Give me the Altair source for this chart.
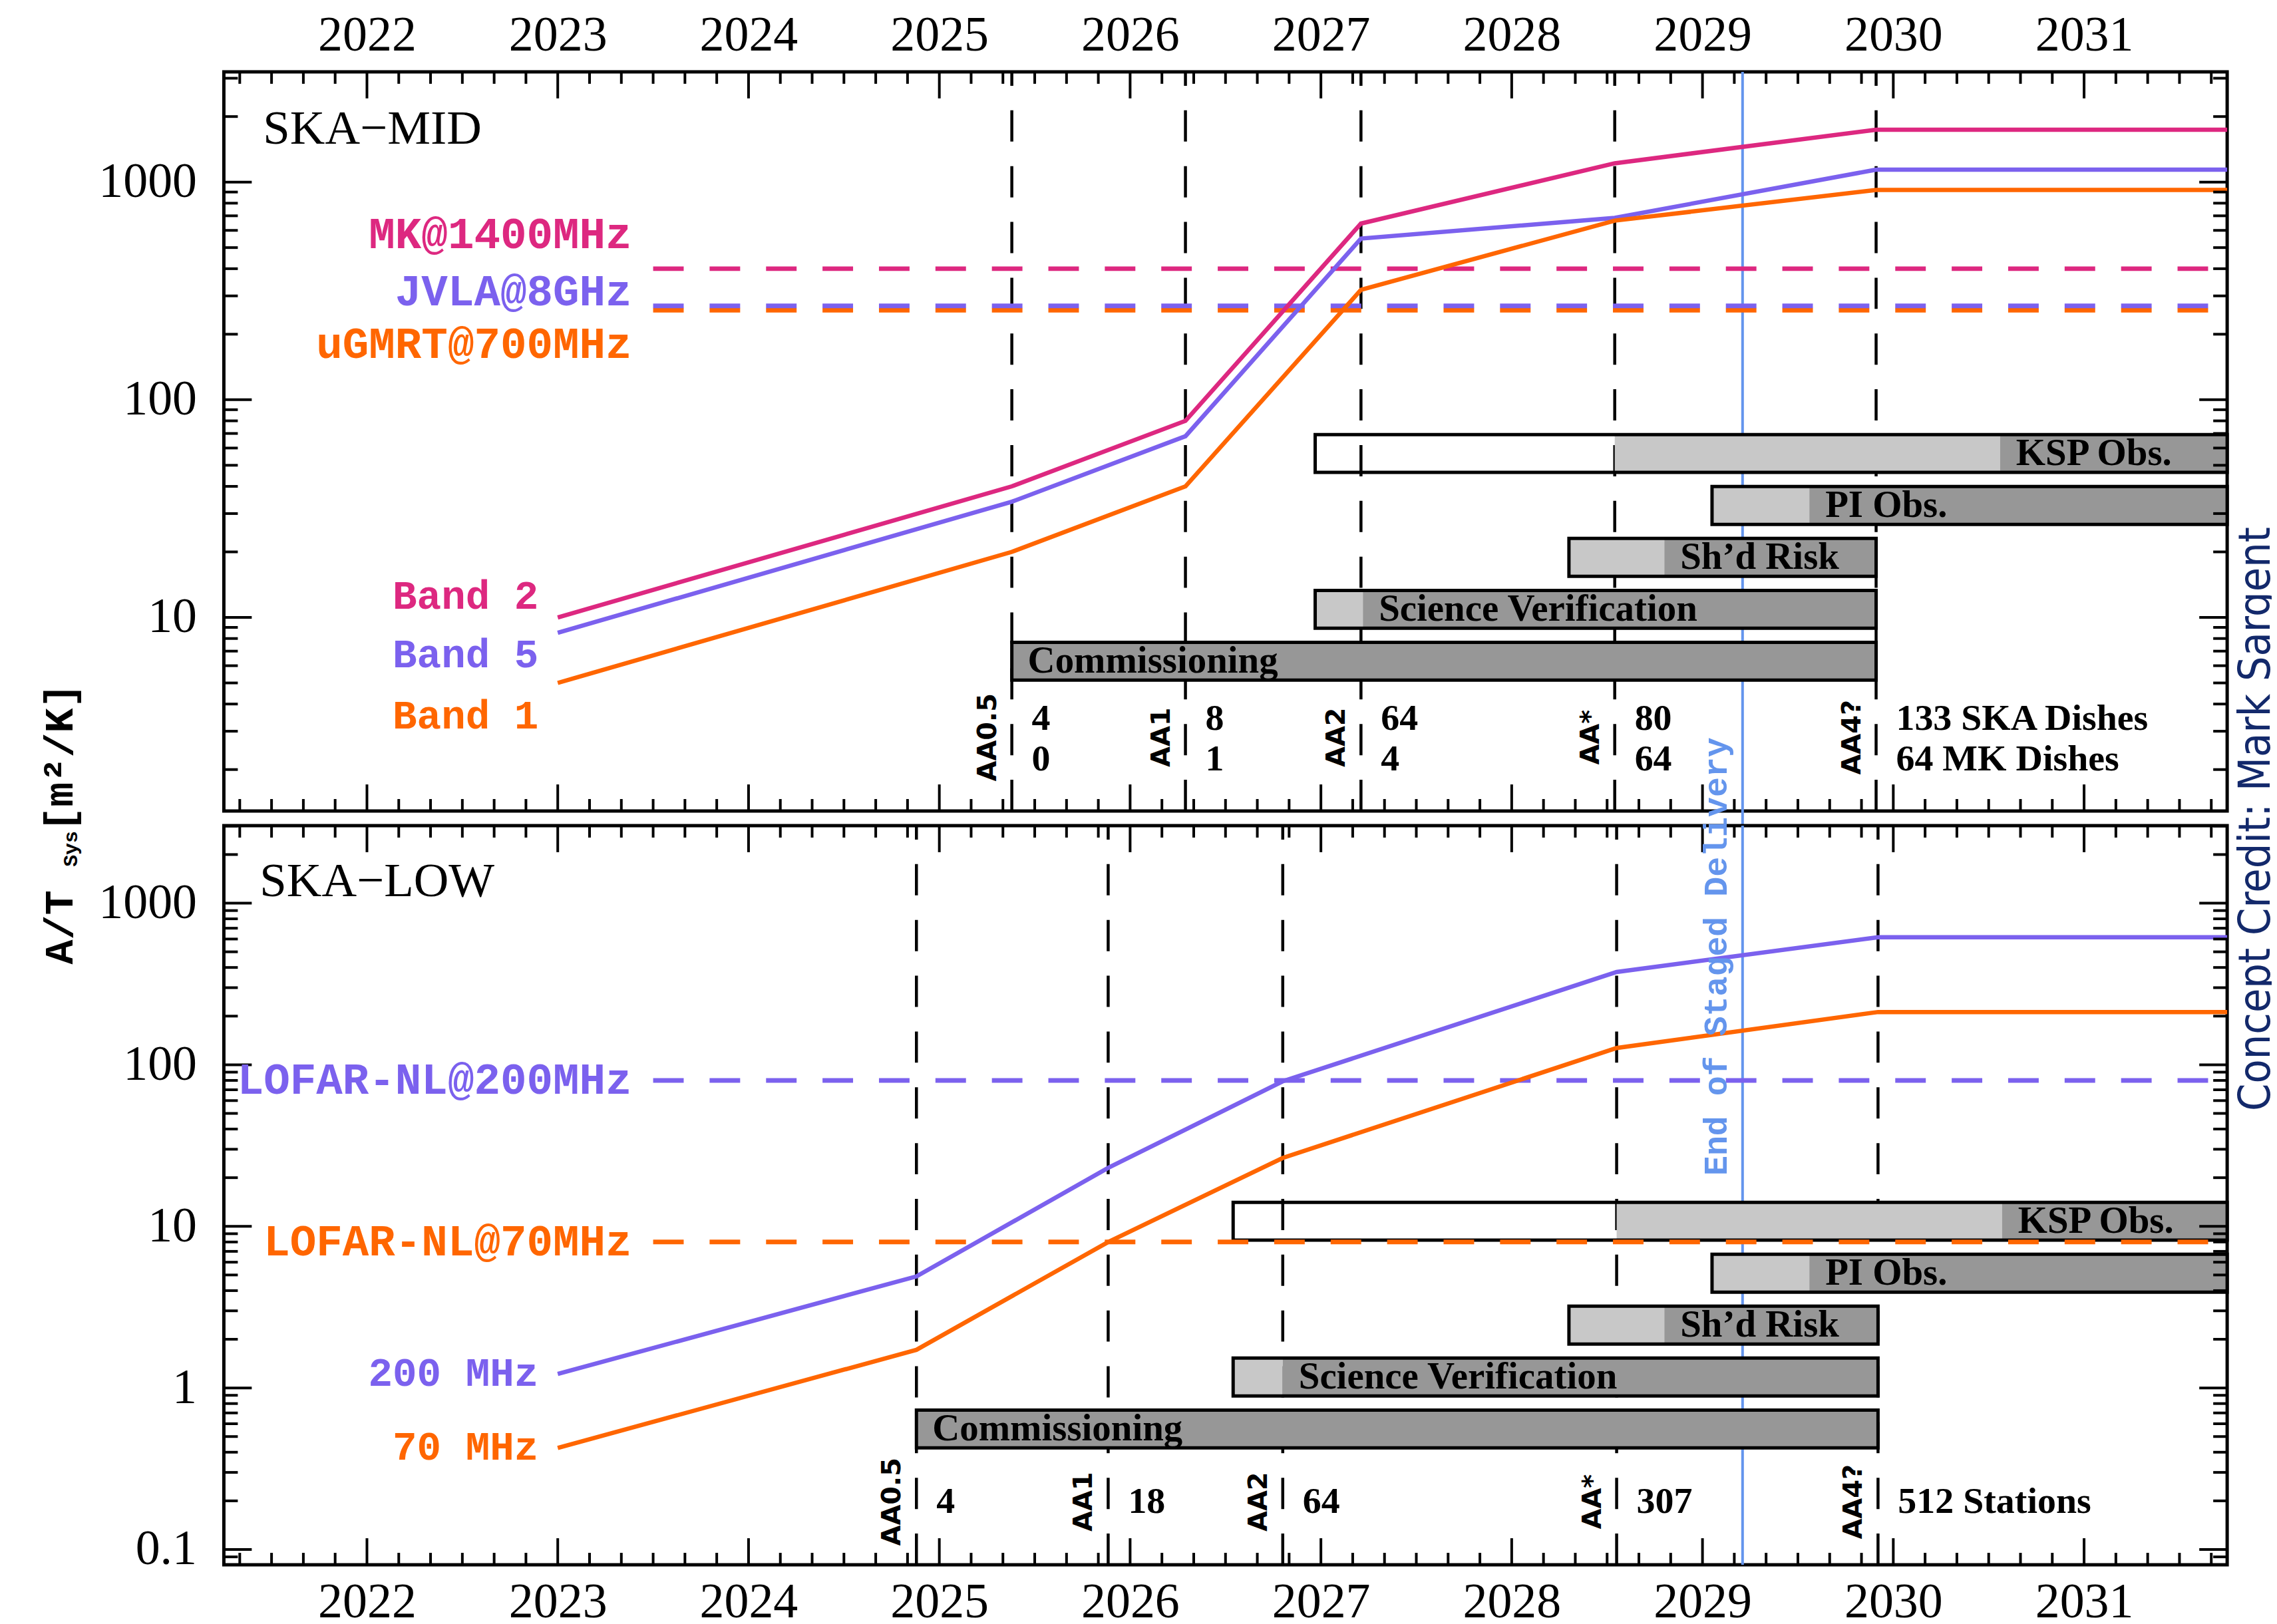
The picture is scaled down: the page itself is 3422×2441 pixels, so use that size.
import altair as alt
import pandas as pd

# ---------------- data ----------------
x_domain = [2021.25, 2031.75]
year_labels = list(range(2022, 2032))

ms_names = ["AA0.5", "AA1", "AA2", "AA*", "AA4?"]
mid_ms_x = [2025.38, 2026.29, 2027.21, 2028.54, 2029.91]
mid_ska_dishes = ["4", "8", "64", "80", "133 SKA Dishes"]
mid_mk_dishes = ["0", "1", "4", "64", "64 MK Dishes"]
low_ms_x = [2024.88, 2025.885, 2026.80, 2028.55, 2029.92]
low_stations = ["4", "18", "64", "307", "512 Stations"]

staged_delivery_x = 2029.21
line_start_x = 2023.0
line_end_x = 2031.75

mid_series = ["Band 2", "Band 5", "Band 1"]
mid_band2 = [10, 40, 80, 645, 1220, 1740, 1740]
mid_band5 = [8.5, 34, 68, 550, 685, 1140, 1140]
mid_band1 = [5, 20, 40, 320, 665, 920, 920]
mid_band_label_y = [12.4, 6.7, 3.5]

low_series = ["200 MHz", "70 MHz"]
low_200 = [1.22, 4.9, 23, 79, 375, 615, 615]
low_70 = [0.425, 1.72, 8.0, 26.5, 127, 212, 212]

mid_ref_names = ["MK@1400MHz", "JVLA@8GHz", "uGMRT@700MHz"]
mid_ref_values = [400, 270, 258]
mid_ref_label_y = [571, 313, 179]
low_ref_names = ["LOFAR-NL@200MHz", "LOFAR-NL@70MHz"]
low_ref_values = [80, 8]
ref_start_x = 2023.5

bar_names = ["Commissioning", "Science Verification", "Sh\u2019d Risk", "PI Obs.", "KSP Obs."]
mid_bar_start = [2025.38, 2026.97, 2028.30, 2029.05, 2026.97]
mid_bar_white_end = [2025.38, 2026.97, 2028.30, 2029.05, 2028.54]
mid_bar_light_end = [2025.38, 2027.22, 2028.80, 2029.56, 2030.56]
mid_bar_end = [2029.91, 2029.91, 2029.91, 2031.75, 2031.75]
low_bar_start = [2024.88, 2026.54, 2028.30, 2029.05, 2026.54]
low_bar_white_end = [2024.88, 2026.54, 2028.30, 2029.05, 2028.55]
low_bar_light_end = [2024.88, 2026.80, 2028.80, 2029.56, 2030.57]
low_bar_end = [2029.92, 2029.92, 2029.92, 2031.75, 2031.75]

mid_y_domain = [1.29, 3210]
low_y_domain = [0.0804, 3020]

# ---------------- styles / layout ----------------
W, H, GAP = 3016, 1113, 22
SERIF = "Liberation Serif, DejaVu Serif, serif"
MONO = "Liberation Mono, DejaVu Sans Mono, monospace"
SANS = "DejaVu Sans, Liberation Sans, sans-serif"
COND = "DejaVu Sans Condensed, Liberation Sans Narrow, Roboto, sans-serif"
PINK, PURPLE, ORANGE = "#DD2880", "#7B61EE", "#FF6600"
BLUE, LIGHT, DARK, NAVY = "#6495ED", "#C8C8C8", "#979797", "#13296B"
ROW_PITCH = 78.2
HALF_BAR = 28.5 / ROW_PITCH


def log_ticks(lo, hi):
    majors, minors = [], []
    for e in range(-2, 5):
        for m in range(1, 10):
            v = round(m * 10.0 ** e, 6)
            if lo <= v <= hi:
                (majors if m == 1 else minors).append(v)
    return majors, minors


def year_ticks():
    minors = []
    for k in range(0, 72):
        v = 2021 + k / 6.0
        if k % 6 != 0 and x_domain[0] < v < x_domain[1]:
            minors.append(round(v, 5))
    return year_labels, minors


def one(**kw):
    return pd.DataFrame({k: [v] for k, v in kw.items()})


def make_panel(kind):
    top = kind == "MID"
    ydom = mid_y_domain if top else low_y_domain
    ymaj, ymin = log_ticks(*ydom)
    xmaj, xmin = year_ticks()

    xs = alt.Scale(domain=x_domain, nice=False, zero=False)
    ys = alt.Scale(type="log", domain=ydom, nice=False)
    ax_x = alt.Axis(orient="top" if top else "bottom", values=year_labels, format="d",
                    title=None, ticks=False, tickSize=0, domain=False, grid=False,
                    labelFont=SERIF, labelFontSize=74, labelColor="black",
                    labelPadding=33 if top else 79, labelBaseline="alphabetic",
                    labelFlush=False, labelOverlap=False, labelAngle=0)
    ax_y = alt.Axis(orient="left", values=ymaj, format="~g", title=None, ticks=False,
                    tickSize=0, domain=False, grid=False, labelFont=SERIF,
                    labelFontSize=74, labelColor="black", labelPadding=41,
                    labelAlign="right", labelBaseline="middle", labelFlush=False,
                    labelOverlap=False)

    def X(f):
        return alt.X(f, type="quantitative", scale=xs, axis=ax_x)

    def Y(f):
        return alt.Y(f, type="quantitative", scale=ys, axis=ax_y)

    ms_x = mid_ms_x if top else low_ms_x
    # ---------- group A: under the bars ----------
    a_layers = []
    a_layers.append(
        alt.Chart(one(x=staged_delivery_x)).mark_rule(color=BLUE, strokeWidth=4).encode(
            x=X("x"), y=alt.value(0), y2=alt.value(H + GAP if top else H)))
    a_layers.append(
        alt.Chart(pd.DataFrame({"x": ms_x})).mark_rule(
            color="black", strokeWidth=4.5, strokeDash=[47, 37]).encode(
            x=X("x"), y=alt.value(H), y2=alt.value(0)))
    if top:
        # invisible anchor fixing the page offset of the plot area
        a_layers.append(
            alt.Chart(one(x=0)).mark_rule(strokeOpacity=0, strokeWidth=0.1).encode(
                x=alt.value(-326), x2=alt.value(-300), y=alt.value(-120), y2=alt.value(-120)))
    group_a = alt.layer(*a_layers)

    # ---------- bars (own row scale) ----------
    r0 = 887.5 if top else 908.5
    rs = alt.Scale(domain=[(r0 - H) / ROW_PITCH, r0 / ROW_PITCH], nice=False, zero=False)
    bs = mid_bar_start if top else low_bar_start
    bw = mid_bar_white_end if top else low_bar_white_end
    bl = mid_bar_light_end if top else low_bar_light_end
    be = mid_bar_end if top else low_bar_end
    segs, outl, labs = [], [], []
    for i, name in enumerate(bar_names):
        if bl[i] > bw[i]:
            segs.append({"x0": bw[i], "x1": bl[i], "y0": i - HALF_BAR, "y1": i + HALF_BAR, "c": LIGHT})
        segs.append({"x0": bl[i], "x1": be[i], "y0": i - HALF_BAR, "y1": i + HALF_BAR, "c": DARK})
        outl.append({"x0": bs[i], "x1": be[i], "y0": i - HALF_BAR, "y1": i + HALF_BAR})
        labs.append({"x0": bl[i], "row": i, "name": name})
    bars_fill = alt.Chart(pd.DataFrame(segs)).mark_rect().encode(
        x=X("x0"), x2="x1", y=alt.Y("y0:Q", scale=rs, axis=None), y2="y1",
        color=alt.Color("c:N", scale=None))
    bars_out = alt.Chart(pd.DataFrame(outl)).mark_rect(
        fillOpacity=0, stroke="black", strokeWidth=5).encode(
        x=X("x0"), x2="x1", y=alt.Y("y0:Q", scale=rs, axis=None), y2="y1")
    bars_txt = alt.Chart(pd.DataFrame(labs)).mark_text(
        align="left", baseline="middle", dx=24, font=SERIF, fontWeight="bold",
        fontSize=57, color="black").encode(
        x=X("x0"), y=alt.Y("row:Q", scale=rs, axis=None), text="name:N")
    group_bars = alt.layer(bars_fill, bars_out, bars_txt)

    # ---------- group B: over the bars ----------
    b = []
    if top:
        ref_names, ref_vals, ref_cols = mid_ref_names, mid_ref_values, [PINK, PURPLE, ORANGE]
        ref_label_y = mid_ref_label_y
    else:
        ref_names, ref_vals, ref_cols = low_ref_names, low_ref_values, [PURPLE, ORANGE]
        ref_label_y = low_ref_values
    ref_df = pd.DataFrame({"name": ref_names, "v": ref_vals, "c": ref_cols,
                           "x0": ref_start_x, "x1": line_end_x, "ly": ref_label_y})
    order = [0, 2, 1] if top else [0, 1]
    b.append(alt.Chart(ref_df.iloc[order]).mark_rule(strokeWidth=7, strokeDash=[46, 39]).encode(
        x=X("x0"), x2="x1", y=Y("v"), color=alt.Color("c:N", scale=None)))

    if top:
        series, vals, cols = mid_series, [mid_band2, mid_band5, mid_band1], [PINK, PURPLE, ORANGE]
        lab_y = mid_band_label_y
    else:
        series, vals, cols = low_series, [low_200, low_70], [PURPLE, ORANGE]
        lab_y = [low_200[0], low_70[0]]
    lx = [line_start_x] + ms_x + [line_end_x]
    rows = []
    for s, v, c in zip(series, vals, cols):
        for xx, yy in zip(lx, v):
            rows.append({"s": s, "x": xx, "v": yy, "c": c})
    b.append(alt.Chart(pd.DataFrame(rows)).mark_line(strokeWidth=6.5).encode(
        x=X("x"), y=Y("v"), detail="s:N", color=alt.Color("c:N", scale=None)))

    # ticks (inward, on all four sides)
    for vals_, L in ((ymaj, 42), (ymin, 21)):
        d = pd.DataFrame({"v": vals_})
        b.append(alt.Chart(d).mark_rule(color="black", strokeWidth=4).encode(
            y=Y("v"), x=alt.value(0), x2=alt.value(L)))
        b.append(alt.Chart(d).mark_rule(color="black", strokeWidth=4).encode(
            y=Y("v"), x=alt.value(W - L), x2=alt.value(W)))
    for vals_, L in ((xmaj, 40), (xmin, 18)):
        d = pd.DataFrame({"t": vals_})
        b.append(alt.Chart(d).mark_rule(color="black", strokeWidth=4).encode(
            x=X("t"), y=alt.value(0), y2=alt.value(L)))
        b.append(alt.Chart(d).mark_rule(color="black", strokeWidth=4).encode(
            x=X("t"), y=alt.value(H - L), y2=alt.value(H)))

    # series labels and reference labels
    b.append(alt.Chart(pd.DataFrame({"name": series, "x": line_start_x, "ly": lab_y, "c": cols}))
             .mark_text(align="right", baseline="middle", dx=-29, font=MONO, fontWeight="bold",
                        fontSize=61).encode(
        x=X("x"), y=Y("ly"), text="name:N", color=alt.Color("c:N", scale=None)))
    b.append(alt.Chart(ref_df).mark_text(align="right", baseline="middle", dx=-32, font=MONO,
                                         fontWeight="bold", fontSize=66).encode(
        x=X("x0"), y=Y("ly"), text="name:N", color=alt.Color("c:N", scale=None)))

    # milestone labels
    ms_df = pd.DataFrame({"x": ms_x, "name": ms_names})
    b.append(alt.Chart(ms_df).mark_text(angle=270, align="center", baseline="alphabetic", dy=-24,
                                        font=SANS, fontWeight="bold", fontSize=40,
                                        color="black").encode(
        x=X("x"), y=alt.value(1002 if top else 1018), text="name:N"))
    if top:
        n_rows = [(mid_ska_dishes, 974), (mid_mk_dishes, 1035)]
    else:
        n_rows = [(low_stations, 1018)]
    for texts, yy in n_rows:
        b.append(alt.Chart(pd.DataFrame({"x": ms_x, "t": texts})).mark_text(
            align="left", baseline="middle", dx=30, font=SERIF, fontWeight="bold",
            fontSize=56, color="black").encode(x=X("x"), y=alt.value(yy), text="t:N"))

    # panel name
    b.append(alt.Chart(one(t="SKA\u2212MID" if top else "SKA\u2212LOW")).mark_text(
        align="left", baseline="alphabetic", font=SERIF, fontSize=73, color="black").encode(
        x=alt.value(59 if top else 54), y=alt.value(108 if top else 106), text="t:N"))

    if top:
        # y title (spans both panels)
        for txt, yy, xx, fs in (("A/T", 1344, -228, 62), ("Sys", 1197, -221, 30),
                                ("[m\u00b2/K]", 1144, -228, 62)):
            b.append(alt.Chart(one(t=txt)).mark_text(
                angle=270, align="left", baseline="alphabetic", font=MONO, fontWeight="bold",
                fontSize=fs, color="black").encode(x=alt.value(xx), y=alt.value(yy), text="t:N"))
        b.append(alt.Chart(one(t="Concept Credit: Mark Sargent")).mark_text(
            angle=270, align="center", baseline="alphabetic", font=COND, fontSize=66,
            color=NAVY).encode(x=alt.value(W + 64), y=alt.value(1125), text="t:N"))
    else:
        b.append(alt.Chart(one(x=staged_delivery_x, t="End of Staged Delivery")).mark_text(
            angle=270, align="center", baseline="alphabetic", dy=-24, font=MONO,
            fontWeight="bold", fontSize=50, color=BLUE).encode(
            x=X("x"), y=alt.value(197), text="t:N"))

    group_b = alt.layer(*b)
    return alt.layer(group_a, group_bars, group_b).resolve_scale(y="independent").properties(
        width=W, height=H)


chart = alt.vconcat(make_panel("MID"), make_panel("LOW"), spacing=GAP, bounds="flush").properties(
    padding={"left": 0, "top": -25, "right": -13, "bottom": -13},
    background="white").configure_view(stroke="black", strokeWidth=5)

chart.save("out.html", embed_options={"renderer": "svg", "actions": False})
